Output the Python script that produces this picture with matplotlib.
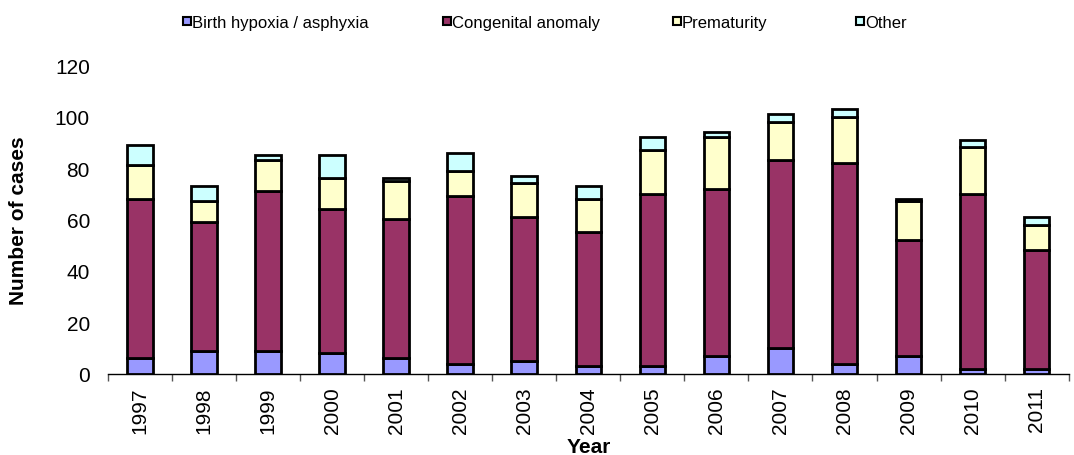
import matplotlib
matplotlib.use("Agg")
import matplotlib.pyplot as plt
import numpy as np
from matplotlib.patches import Rectangle

plt.rcParams['font.family'] = ['Liberation Sans', 'DejaVu Sans']

years = ['1997', '1998', '1999', '2000', '2001', '2002', '2003', '2004',
         '2005', '2006', '2007', '2008', '2009', '2010', '2011']
birth_hypoxia = [6, 9, 9, 8, 6, 4, 5, 3, 3, 7, 10, 4, 7, 2, 2]
congenital = [62, 50, 62, 56, 54, 65, 56, 52, 67, 65, 73, 78, 45, 68, 46]
prematurity = [13, 8, 12, 12, 15, 10, 13, 13, 17, 20, 15, 18, 15, 18, 10]
other = [8, 6, 2, 9, 1, 7, 3, 5, 5, 2, 3, 3, 1, 3, 3]

labels = ['Birth hypoxia / asphyxia', 'Congenital anomaly', 'Prematurity', 'Other']
colors = ['#9999FF', '#993366', '#FFFFCC', '#CCFFFF']

fig = plt.figure(figsize=(10.74, 4.56), dpi=100)
ax = fig.add_axes([0.1006, 0.178, 0.8944, 0.677])

x = np.arange(len(years))
series = [birth_hypoxia, congenital, prematurity, other]
bottom = np.zeros(len(years))
for vals, col, lab in zip(series, colors, labels):
    ax.bar(x, vals, width=0.4, bottom=bottom, color=col, edgecolor='black',
           linewidth=2, label=lab, zorder=3)
    bottom += np.array(vals)

ax.set_xlim(-0.5, len(years) - 0.5)
ax.set_ylim(0, 120)
ax.set_yticks([0, 20, 40, 60, 80, 100, 120])
ax.tick_params(axis='y', length=0, labelsize=15, pad=13)
ax.set_xticks(x)
ax.set_xticklabels(years, rotation=90, fontsize=15)
ax.tick_params(axis='x', length=0, pad=9)
ax.set_xticks(np.arange(len(years) + 1) - 0.5, minor=True)
ax.tick_params(axis='x', which='minor', length=5, width=1, color='#555555')
for s in ['top', 'right', 'left']:
    ax.spines[s].set_visible(False)
ax.spines['bottom'].set_linewidth(1)
ax.set_xlabel('Year', fontsize=15, fontweight='bold', labelpad=2.5)
ax.set_ylabel('Number of cases', fontsize=15, fontweight='bold', labelpad=19)

# legend (manual, top)
marker_x = [183, 443, 673, 856]
for mx, col, lab in zip(marker_x, colors, labels):
    fig.patches.append(Rectangle((mx / 1074, (456 - 26) / 456), 8 / 1074, 8 / 456,
                                 facecolor=col, edgecolor='black', linewidth=1.5,
                                 transform=fig.transFigure, figure=fig))
    fig.text((mx + 9) / 1074, (456 - 28) / 456, lab, fontsize=12,
             va='baseline', ha='left')

fig.savefig('out.png', dpi=100)
